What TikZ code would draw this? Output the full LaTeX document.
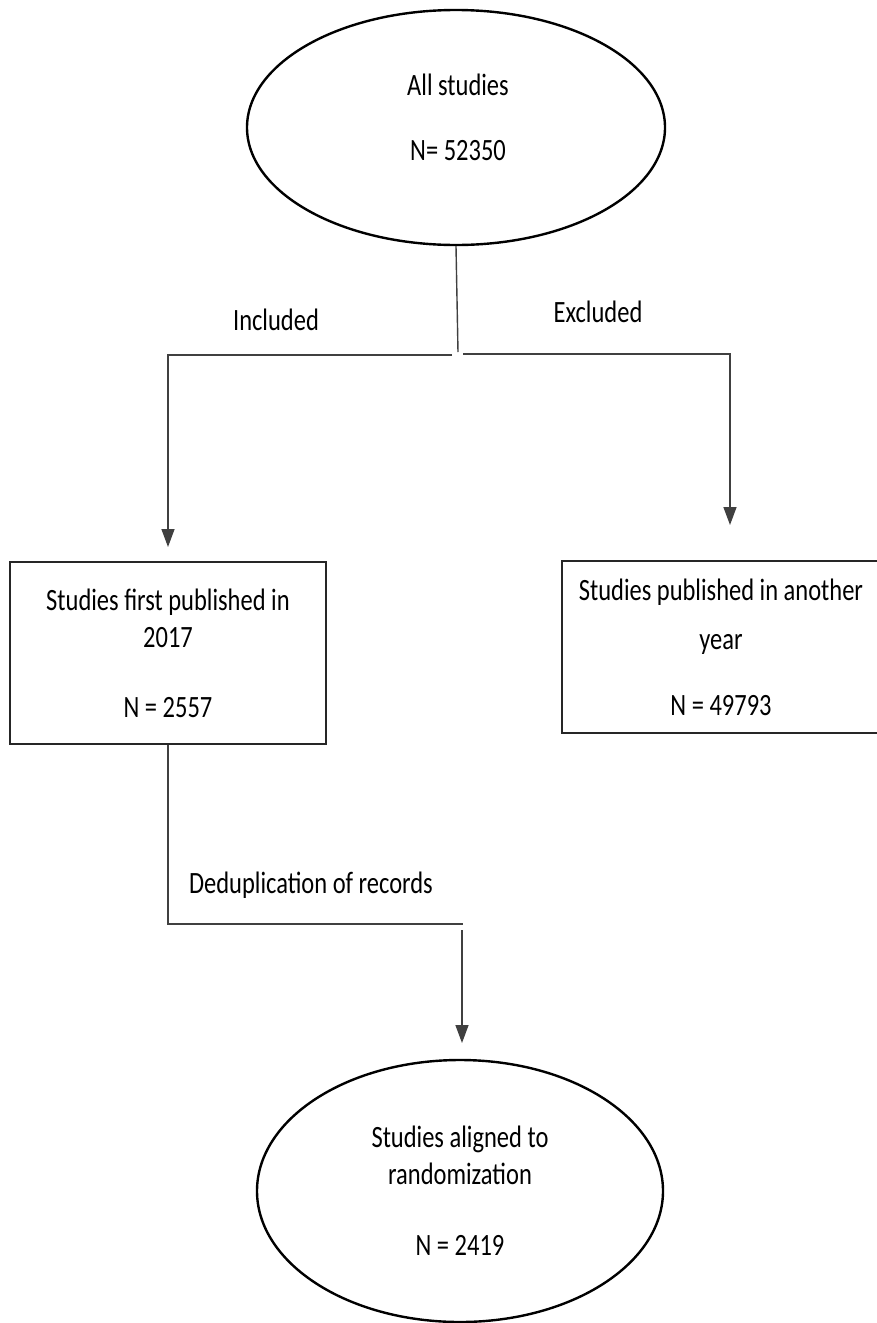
\documentclass[tikz,border=0pt]{standalone}
\usepackage{fontspec}
\setmainfont{Carlito}[FakeStretch=0.79]
\usetikzlibrary{shapes.geometric,arrows.meta}

\tikzset{
  lbl/.style={font=\fontsize{31}{37}\selectfont, align=center},
  flowbox/.style={lbl, rectangle, draw=black!85, line width=2.6pt, inner sep=0pt},
  flowoval/.style={lbl, ellipse, draw=black, line width=2.4pt, inner sep=0pt},
  conn/.style={draw=black!75, line width=1.4pt},
  arr/.style={-{Triangle[length=18pt,width=13pt]}}
}

\begin{document}
\begin{tikzpicture}[x=1pt,y=1pt,yscale=-1]
\useasboundingbox (0,0) rectangle (877,1323);

%Shape: Ellipse (top)
\node[flowoval, minimum width=418pt, minimum height=235pt] (allstudies) at (456,127.5) {};
% Text Node
\node[lbl] (allstudiestxt) at (458,117) {All studies\\[28pt]N= 52350};

%Shape: Rectangle (included)
\node[flowbox, minimum width=316pt, minimum height=182pt] (first2017) at (168,653)
  {Studies first published in\\2017\\[33pt]N = 2557};
%Shape: Rectangle (excluded)
\node[flowbox, minimum width=318pt, minimum height=172pt] (another) at (721,647)
  {Studies published in another\\[12pt]year\\[29pt]N = 49793};

%Shape: Ellipse (bottom)
\node[flowoval, minimum width=406pt, minimum height=262pt] (aligned) at (460,1191)
  {Studies aligned to\\randomization\\[34pt]N = 2419};

% Text Node
\node[lbl] (included) at (276,320) {Included};
% Text Node
\node[lbl] (excluded) at (598,312) {Excluded};
% Text Node
\node[lbl] (dedup) at (311,885) {Deduplication of records};

%Straight Lines: split
\coordinate (split) at (458,352);
\coordinate (inclstart) at (452,355);
\coordinate (exclstart) at (463,354);
\coordinate (incltip) at (168,547);
\coordinate (excltip) at (730,525);
\draw[conn] (allstudies.south) -- (split);
\draw[conn,arr] (inclstart) -| (incltip);
\draw[conn,arr] (exclstart) -| (excltip);

%Straight Lines: deduplication
\coordinate (dedupend) at (463,924);
\coordinate (dedupstart) at (462,930);
\coordinate (aligntip) at (462,1043);
\draw[conn] (first2017.south) |- (dedupend);
\draw[conn,arr] (dedupstart) -- (aligntip);

\end{tikzpicture}
\end{document}
